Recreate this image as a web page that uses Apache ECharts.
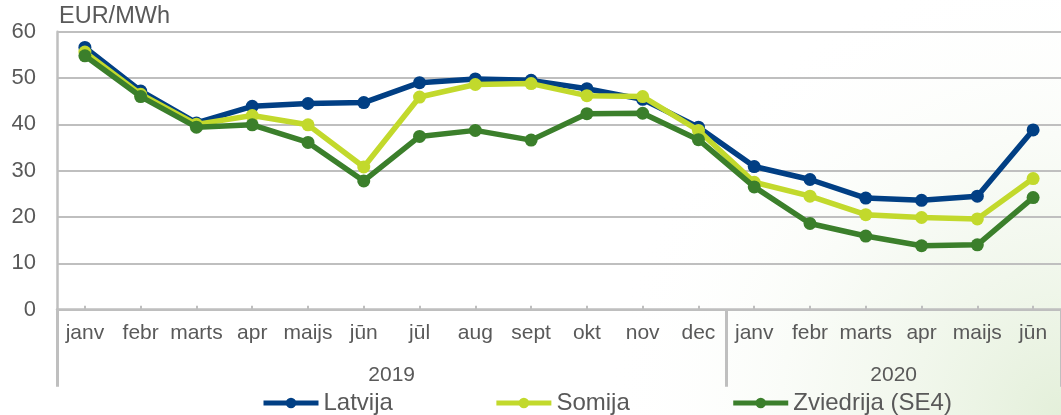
<!DOCTYPE html>
<html>
<head>
<meta charset="utf-8">
<script src="https://cdn.jsdelivr.net/npm/echarts@6/dist/echarts.min.js"></script>
<style>
html,body{margin:0;padding:0;background:#fff;}
#c{width:1061px;height:415px;}
</style>
</head>
<body>
<div id="c"></div>
<script>
const months = ['janv','febr','marts','apr','maijs','jūn','jūl','aug','sept','okt','nov','dec','janv','febr','marts','apr','maijs','jūn'];
const years = ['2019','2020'];
const unitLabel = 'EUR/MWh';
const latvija = [56.6,47.2,40.3,43.9,44.5,44.7,49.0,49.8,49.5,47.7,45.4,39.4,30.9,28.1,24.1,23.6,24.5,38.8];
const somija = [55.6,46.5,40.0,41.9,39.9,30.8,45.9,48.6,48.8,46.2,46.0,38.7,27.5,24.5,20.5,19.9,19.6,28.3];
const zviedrija = [54.8,46.0,39.4,39.9,36.1,27.8,37.4,38.7,36.6,42.3,42.4,36.7,26.5,18.6,15.9,13.8,14.0,24.2];

const FONT = '"Liberation Sans", Arial, sans-serif';
const TXT = '#595959';
const GRID = '#bfbfbf';

const chart = echarts.init(document.getElementById('c'), null, {renderer:'canvas'});

function lineSeries(name, data, color, z){
  return {
    name, type:'line', data, z,
    symbol:'circle', symbolSize:13,
    lineStyle:{color, width:5.5},
    itemStyle:{color},
    emphasis:{disabled:true},
    animation:false
  };
}

chart.setOption({
  backgroundColor:'#ffffff',
  animation:false,
  textStyle:{fontFamily:FONT},
  graphic:[{
    type:'rect', z:-10, silent:true,
    shape:{x:0,y:0,width:1061,height:415},
    style:{fill:{type:'radial', x:1, y:1, r:1.1, colorStops:[
      {offset:0,color:'rgba(218,234,205,0.75)'},
      {offset:0.5,color:'rgba(236,244,229,0.45)'},
      {offset:1,color:'rgba(255,255,255,0)'}]}}
  }],
  grid:{left:57, top:31.7, width:1008, height:278, containLabel:false},
  legend:{
    left:261, top:391, padding:0,
    itemWidth:55, itemHeight:13, itemGap:101,
    lineStyle:{width:5},
    textStyle:{fontSize:24, color:TXT, fontFamily:FONT},
    data:['Latvija','Somija','Zviedrija (SE4)']
  },
  xAxis:[{
    type:'category', data:months, boundaryGap:true, position:'bottom',
    axisLine:{lineStyle:{color:GRID, width:2.5}},
    axisTick:{show:true, inside:true, alignWithLabel:true, length:4, lineStyle:{color:GRID, width:2}},
    axisLabel:{fontSize:21, color:TXT, fontFamily:FONT, margin:13, interval:0},
    splitLine:{show:false}
  },{
    type:'value', min:0, max:18, position:'bottom',
    axisLine:{show:false},
    splitLine:{show:false},
    axisTick:{show:true, customValues:[0,12,18], length:77, lineStyle:{color:GRID, width:3}},
    axisLabel:{show:true, customValues:[6,15], margin:55, fontSize:21, color:TXT, fontFamily:FONT,
      formatter:function(v){ return v===6 ? years[0] : (v===15 ? years[1] : ''); }}
  }],
  yAxis:{
    type:'value', min:0, max:60, interval:10,
    name:unitLabel, nameLocation:'end', nameGap:3,
    nameTextStyle:{fontSize:23.5, color:TXT, fontFamily:FONT, align:'left', verticalAlign:'bottom', padding:[0,0,0,2]},
    axisLine:{show:true, lineStyle:{color:GRID, width:2.5}},
    axisTick:{show:false},
    axisLabel:{fontSize:22, color:TXT, fontFamily:FONT, margin:21},
    splitLine:{show:true, lineStyle:{color:GRID, width:2}}
  },
  series:[
    lineSeries('Latvija', latvija, '#013f84', 3),
    lineSeries('Somija', somija, '#c2d92c', 4),
    lineSeries('Zviedrija (SE4)', zviedrija, '#3b7f2b', 5)
  ]
});
</script>
</body>
</html>
